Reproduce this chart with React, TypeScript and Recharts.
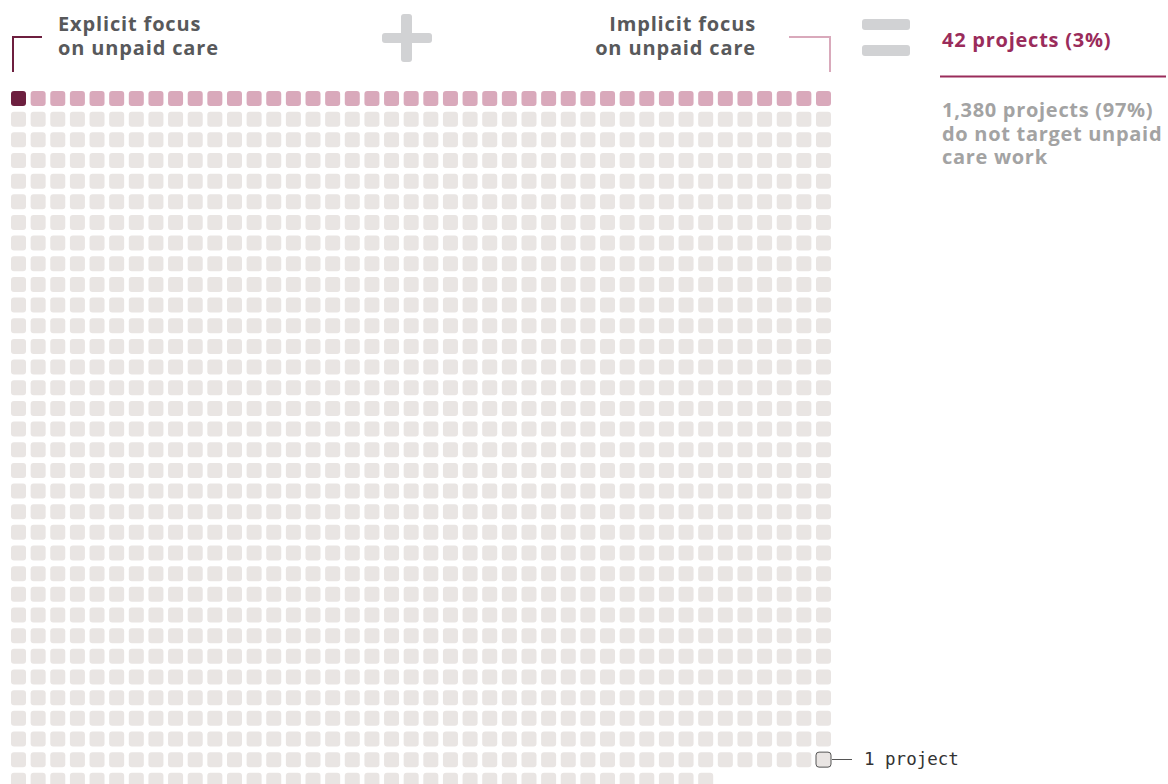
import { Customized, Scatter, ScatterChart, XAxis, YAxis } from 'recharts'

const CATEGORIES = ['explicit', 'implicit', 'none']
const PROJECT_COUNTS = [1, 41, 1380]
const CATEGORY_COLORS = ['#6d1f3f', '#d9a9bb', '#e9e5e3']
const COLUMNS = 42

const TOTAL = PROJECT_COUNTS.reduce((a, b) => a + b, 0)
// legend points at the last cell of the last full row
const KEY_CELL = Math.floor(TOTAL / COLUMNS) * COLUMNS - 1
const ROWS = Math.ceil(TOTAL / COLUMNS)

type WaffleCell = { idx: number; col: number; row: number }

const series: WaffleCell[][] = CATEGORIES.map(() => [])
let cursor = 0
PROJECT_COUNTS.forEach((count, ci) => {
  for (let k = 0; k < count; k++) {
    series[ci].push({ idx: cursor, col: cursor % COLUMNS, row: Math.floor(cursor / COLUMNS) })
    cursor++
  }
})

const CELL = 15

function Square(props: any) {
  const { cx, cy, fill, payload } = props
  const isKey = payload && payload.idx === KEY_CELL
  return (
    <rect
      x={cx - CELL / 2}
      y={cy - CELL / 2}
      width={CELL}
      height={CELL}
      rx={3}
      fill={fill}
      stroke={isKey ? '#555' : 'none'}
      strokeWidth={1}
    />
  )
}

const font = '"Open Sans", sans-serif'

function Annotations() {
  return (
    <g>
      {/* brackets */}
      <path d="M13,72 V37 H42" fill="none" stroke="#6d1f3f" strokeWidth={2} />
      <path d="M789,37 H830 V72" fill="none" stroke="#d9a9bb" strokeWidth={2} />
      {/* plus / equals */}
      <rect x={382} y={33} width={50} height={10} rx={3} fill="#d1d2d4" />
      <rect x={401} y={14} width={11} height={48} rx={3} fill="#d1d2d4" />
      <rect x={862} y={19} width={48} height={11} rx={3} fill="#d1d2d4" />
      <rect x={862} y={45} width={48} height={11} rx={3} fill="#d1d2d4" />
      <g fontFamily={font} fontWeight={700} fontSize={20} letterSpacing={0.85} fill="#58595b">
        <text x={58} y={31}>Explicit focus</text>
        <text x={58} y={55}>on unpaid care</text>
        <text x={756} y={31} textAnchor="end">Implicit focus</text>
        <text x={756} y={55} textAnchor="end">on unpaid care</text>
      </g>
      <text x={942} y={47} fontFamily={font} fontWeight={700} fontSize={20} letterSpacing={0.75} fill="#9a2c5b">
        42 projects (3%)
      </text>
      <line x1={940} x2={1166} y1={76.5} y2={76.5} stroke="#9a2c5b" strokeWidth={2} />
      <g fontFamily={font} fontWeight={700} fontSize={20} letterSpacing={0.7} fill="#a3a3a3">
        <text x={942} y={117}>1,380 projects (97%)</text>
        <text x={942} y={141}>do not target unpaid</text>
        <text x={942} y={164}>care work</text>
      </g>
      <line x1={832} x2={852} y1={759.5} y2={759.5} stroke="#555" strokeWidth={1} />
      <text x={864} y={765} fontFamily='"DejaVu Sans Mono", monospace' fontSize={17.5} fill="#333">
        1 project
      </text>
    </g>
  )
}

export default function App() {
  return (
    <div style={{ position: 'absolute', left: 0, top: 0, width: 1168, height: 784, overflow: 'hidden', background: '#fff' }}>
      <ScatterChart width={1168} height={800} margin={{ top: 98.5, left: 18.5, right: 344.5, bottom: 19.7 }}>
        <XAxis type="number" dataKey="col" domain={[0, COLUMNS - 1]} hide />
        <YAxis type="number" dataKey="row" domain={[0, ROWS - 1]} reversed hide />
        {series.map((data, i) => (
          <Scatter
            key={CATEGORIES[i]}
            name={CATEGORIES[i]}
            data={data}
            fill={CATEGORY_COLORS[i]}
            shape={<Square />}
            isAnimationActive={false}
          />
        ))}
        <Customized component={<Annotations />} />
      </ScatterChart>
    </div>
  )
}
